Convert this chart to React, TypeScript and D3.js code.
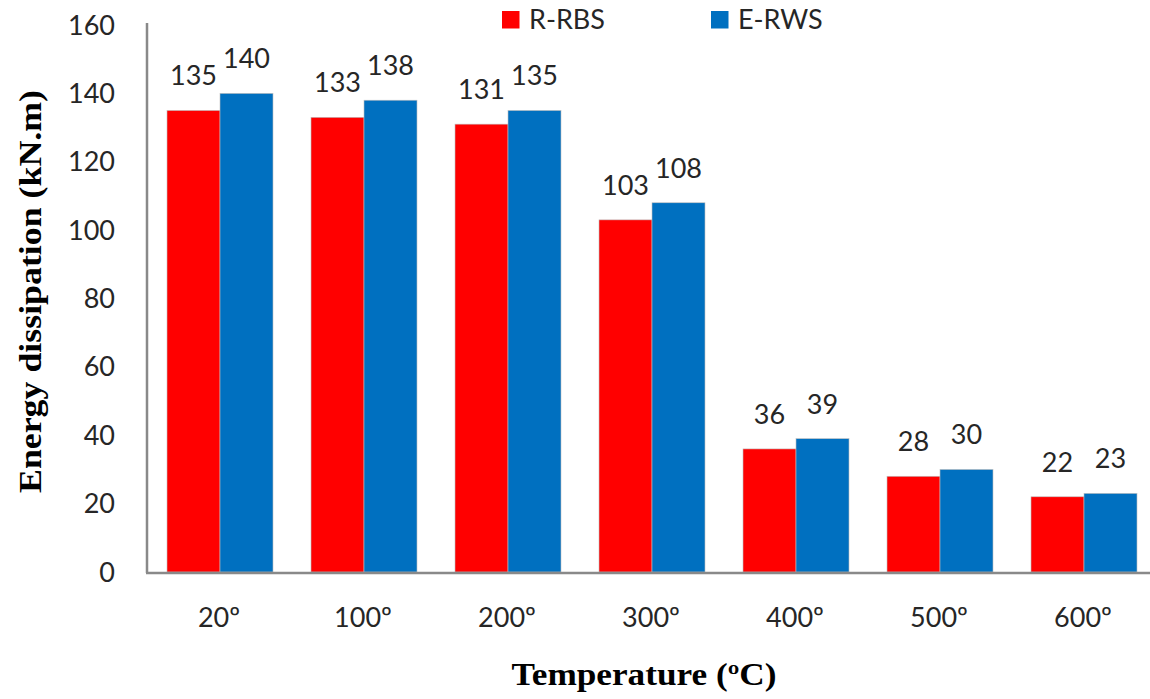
import React from "react";
import * as d3 from "d3";

const categories = ["20º", "100º", "200º", "300º", "400º", "500º", "600º"];
const seriesNames = ["R-RBS", "E-RWS"];
const rrbsValues = [135, 133, 131, 103, 36, 28, 22];
const erwsValues = [140, 138, 135, 108, 39, 30, 23];
const yTicks = [0, 20, 40, 60, 80, 100, 120, 140, 160];
const seriesColors = ["#FF0000", "#0070C0"];

const W = 1150;
const H = 699;
const plotLeft = 148;
const plotRight = 1156;
const plotTop = 25;
const plotBottom = 572;

const numFont = "Lato, 'Open Sans', sans-serif";
const titleFont = "'Liberation Serif', 'Times New Roman', serif";

export default function App() {
  const x = d3
    .scaleBand<string>()
    .domain(categories)
    .range([plotLeft, plotRight])
    .paddingInner(0.264)
    .paddingOuter(0.132);
  const barW = x.bandwidth() / 2;
  const y = d3.scaleLinear().domain([0, 160]).range([plotBottom, plotTop]);
  const series = [rrbsValues, erwsValues];

  return (
    <svg
      width={W}
      height={H}
      style={{ position: "absolute", left: 0, top: 0, background: "#fff" }}
    >
      {/* grouped bars with value labels */}
      {categories.map((c, i) => {
        const gx = x(c) as number;
        const cx = gx + x.bandwidth() / 2;
        return (
          <g key={c}>
            {series.map((vals, s) => {
              const bx = gx + s * barW;
              const top = y(vals[i]);
              return (
                <g key={s}>
                  <rect
                    x={bx}
                    y={top}
                    width={barW}
                    height={plotBottom - top}
                    fill={seriesColors[s]}
                    stroke="#bfbfbf"
                    strokeWidth={0.6}
                  />
                  <text
                    x={bx + barW / 2}
                    y={top - 25}
                    textAnchor="middle"
                    fontFamily={numFont}
                    fontSize={27}
                    fill="#262626"
                  >
                    {vals[i]}
                  </text>
                </g>
              );
            })}
            <text
              x={cx - 1}
              y={627}
              textAnchor="middle"
              fontFamily={numFont}
              fontSize={27}
              fill="#262626"
            >
              {c}
            </text>
          </g>
        );
      })}

      {/* y tick labels */}
      {yTicks.map((t) => (
        <text
          key={t}
          x={115}
          y={y(t) + 9.5}
          textAnchor="end"
          fontFamily={numFont}
          fontSize={27}
          fill="#262626"
        >
          {t}
        </text>
      ))}

      {/* axes */}
      <line
        x1={plotLeft - 1}
        x2={plotLeft - 1}
        y1={plotTop - 2}
        y2={plotBottom + 1}
        stroke="#898989"
        strokeWidth={2.5}
      />
      <line
        x1={plotLeft - 2}
        x2={W}
        y1={plotBottom + 1}
        y2={plotBottom + 1}
        stroke="#898989"
        strokeWidth={2.5}
      />

      {/* legend */}
      {seriesNames.map((n, s) => {
        const lx = s === 0 ? 502 : 711;
        return (
          <g key={n}>
            <rect x={lx} y={11} width={17.5} height={17.5} fill={seriesColors[s]} />
            <text
              x={lx + 27}
              y={28.5}
              fontFamily={numFont}
              fontSize={27}
              fill="#262626"
            >
              {n}
            </text>
          </g>
        );
      })}

      {/* axis titles */}
      <text
        x={644}
        y={685}
        textAnchor="middle"
        fontFamily={titleFont}
        fontWeight="bold"
        fontSize={31}
        textLength={265}
        lengthAdjust="spacingAndGlyphs"
        fill="#000"
      >
        Temperature (ºC)
      </text>
      <text
        transform="translate(41,291.5) rotate(-90)"
        textAnchor="middle"
        fontFamily={titleFont}
        fontWeight="bold"
        fontSize={31}
        textLength={403}
        lengthAdjust="spacingAndGlyphs"
        fill="#000"
      >
        Energy dissipation (kN.m)
      </text>
    </svg>
  );
}
